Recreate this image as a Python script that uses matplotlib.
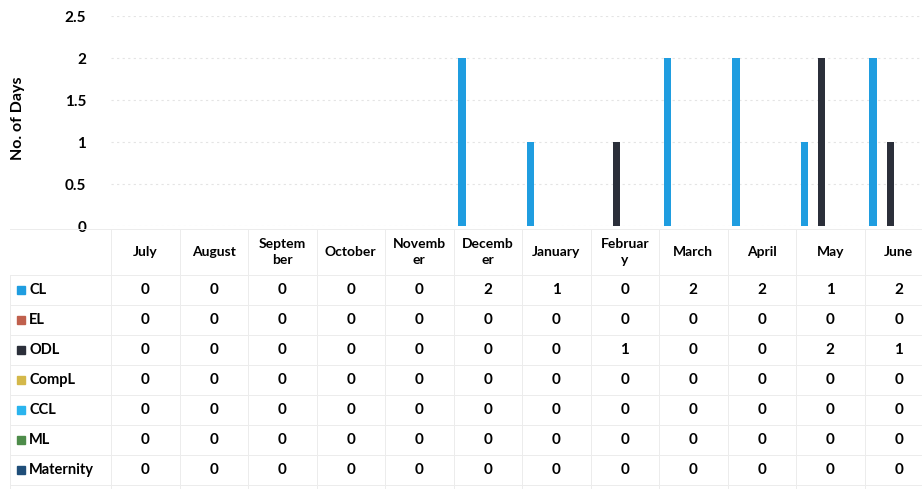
import numpy as np
import matplotlib.pyplot as plt
from matplotlib.transforms import blended_transform_factory

plt.rcParams['font.family'] = ['Lato', 'DejaVu Sans']
plt.rcParams['font.weight'] = 'bold'

months = ['July', 'August', 'September', 'October', 'November', 'December',
          'January', 'February', 'March', 'April', 'May', 'June']
month_labels = ['July', 'August', 'Septem\nber', 'October', 'Novemb\ner', 'Decemb\ner',
                'January', 'Februar\ny', 'March', 'April', 'May', 'June']

series_names = ['CL', 'EL', 'ODL', 'CompL', 'CCL', 'ML', 'Maternity']
cl = [0, 0, 0, 0, 0, 2, 1, 0, 2, 2, 1, 2]
el = [0, 0, 0, 0, 0, 0, 0, 0, 0, 0, 0, 0]
odl = [0, 0, 0, 0, 0, 0, 0, 1, 0, 0, 2, 1]
compl = [0, 0, 0, 0, 0, 0, 0, 0, 0, 0, 0, 0]
ccl = [0, 0, 0, 0, 0, 0, 0, 0, 0, 0, 0, 0]
ml = [0, 0, 0, 0, 0, 0, 0, 0, 0, 0, 0, 0]
maternity = [0, 0, 0, 0, 0, 0, 0, 0, 0, 0, 0, 0]
series = [cl, el, odl, compl, ccl, ml, maternity]
colors = ['#1f9de0', '#c0604d', '#2b2f3a', '#d4b84a', '#2ab4ee', '#4e8c4a', '#1f4e79']

W, H = 922, 490
fig = plt.figure(figsize=(W / 100, H / 100), dpi=100)
fig.patch.set_facecolor('white')

# plot area in pixels (left, top, right, bottom)
L, T, R, B = 111, 16, 933, 226
ax = fig.add_axes([L / W, 1 - B / H, (R - L) / W, (B - T) / H])

x = np.arange(len(months))
w = 0.125
for i, (vals, c) in enumerate(zip(series, colors)):
    ax.bar(x + (i - 3) * w, vals, width=w * 0.85, color=c, zorder=3)

ax.set_xlim(-0.5, len(months) - 0.5)
ax.set_ylim(0, 2.5)
ax.set_yticks(np.arange(0, 2.51, 0.5))
ax.set_yticklabels(['0', '0.5', '1', '1.5', '2', '2.5'], fontsize=11, fontweight='bold')
ax.set_xticks([])
ax.tick_params(axis='y', length=0, pad=18)
for s in ax.spines.values():
    s.set_visible(False)
ax.yaxis.grid(True, color='#e4e4e4', linestyle=(0, (2, 3)), linewidth=0.8, zorder=0)
ax.set_axisbelow(True)

fig.text(18 / W, 1 - 118 / H, 'No. of Days', rotation=90, ha='center', va='center',
         fontsize=11.5, fontweight='bold')

# data table below the plot
tr = blended_transform_factory(ax.transData, fig.transFigure)
def fy(y):
    return 1 - y / H

grid_c = '#ececec'
header_y = 252
row_y = [290 + 30 * k for k in range(len(series_names))]
# horizontal lines
for yl in [229, 275] + [305 + 30 * k for k in range(len(series_names))]:
    fig.add_artist(plt.Line2D([10 / W, 1.0], [fy(yl), fy(yl)], color=grid_c, lw=0.7))
# vertical lines
for k in range(len(months) + 1):
    fig.add_artist(plt.Line2D([k - 0.5, k - 0.5], [fy(229), fy(488)], color=grid_c, lw=0.7,
                              transform=tr))
fig.add_artist(plt.Line2D([10 / W, 10 / W], [fy(275), fy(488)], color=grid_c, lw=0.7))

for j, lab in enumerate(month_labels):
    fig.text(j, fy(header_y), lab, transform=tr, ha='center', va='center',
             fontsize=10, fontweight='bold', linespacing=1.45)

for r, (name, vals, c) in enumerate(zip(series_names, series, colors)):
    yy = row_y[r]
    fig.patches.append(plt.Rectangle((17 / W, fy(yy + 4)), 8 / W, 8 / H, color=c,
                                     transform=fig.transFigure, figure=fig))
    fig.text(29 / W, fy(yy), name, ha='left', va='center', fontsize=10.5, fontweight='bold')
    for j, v in enumerate(vals):
        fig.text(j, fy(yy), str(v), transform=tr, ha='center', va='center',
                 fontsize=11, fontweight='bold')

fig.savefig('out.png', dpi=100)
